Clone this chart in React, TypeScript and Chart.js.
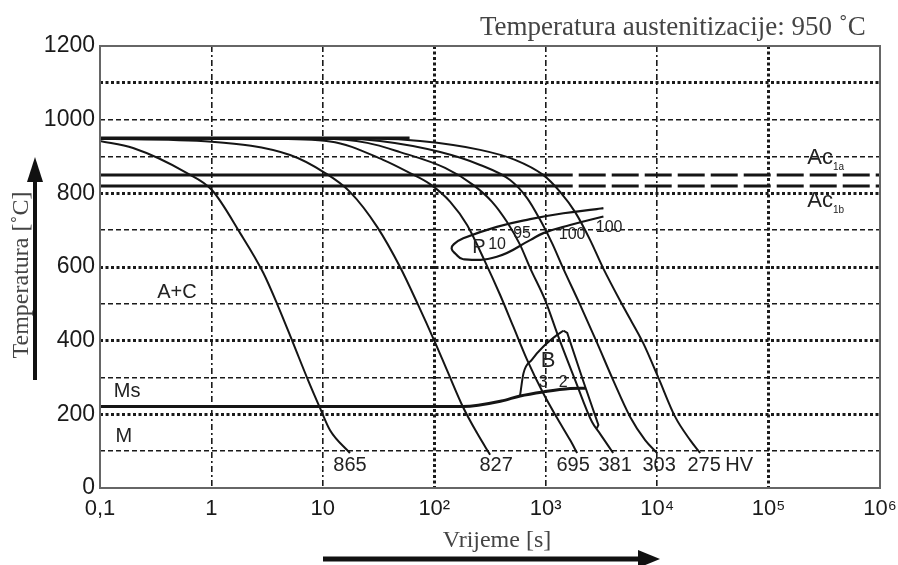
import React, { useEffect, useRef } from 'react';
import { Chart, registerables } from 'chart.js';

Chart.register(...registerables);

// ---- axes ----
const xTicks = [0.1, 1, 10, 100, 1000, 10000, 100000, 1000000];
const xTickLabels = ['0,1', '1', '10', '10²', '10³', '10⁴', '10⁵', '10⁶'];
const xHeavyTicks = [100, 100000];
const yHeavyTicks = [200, 400, 600, 800, 1100];

// ---- cooling curves [time s, temperature °C] ----
const curve865 = [[0.1, 942], [0.198, 923], [0.604, 855], [1.01, 809], [1.81, 692], [2.91, 585], [3.96, 494], [5.4, 394], [7.36, 293], [9.44, 217], [11.6, 157], [17.5, 95]];
const curve827 = [[0.1, 948], [1.01, 940], [5.08, 904], [10.5, 855], [17.5, 804], [30.7, 709], [49.3, 600], [71.6, 497], [102, 394], [130, 320], [181, 220], [242, 149], [317, 90]];
const curve695 = [[0.1, 949], [3, 948], [11.6, 941], [34.7, 891], [60.6, 855], [91.6, 825], [139, 777], [197, 714], [286, 614], [390, 524], [509, 440], [681, 348], [948, 258], [1265, 190], [1656, 130], [1915, 95]];
const curve381 = [[0.1, 949], [10, 948], [25, 937], [49.3, 912], [125, 869], [223, 823], [330, 777], [450, 722], [589, 660], [725, 597], [988, 510], [1291, 413], [1837, 293], [2606, 179], [3076, 147], [4027, 95]];
const curve303 = [[0.1, 949], [15, 948], [32.6, 942], [113, 912], [258, 877], [479, 836], [681, 787], [891, 728], [1140, 665], [1432, 597], [2037, 497], [2891, 394], [4027, 293], [5728, 193], [7801, 130], [10000, 95]];
const curve275 = [[0.1, 949], [30, 948], [74.6, 942], [258, 918], [531, 891], [948, 850], [1346, 804], [1837, 749], [2506, 673], [3275, 597], [5164, 483], [7482, 394], [10210, 301], [14520, 193], [19790, 130], [24320, 95]];

// ---- transformation lines ----
const austenitizing = [[0.1, 950], [60, 950]];
const ac1a = [[0.1, 850], [1000, 850], [1000000, 850]];
const ac1b = [[0.1, 820], [1000, 820], [1000000, 820]];
const msLine = [[0.1, 221], [182, 221], [400, 236], [589, 250], [953, 261], [1656, 270], [2281, 271]];
const bainiteStart = [[589, 252], [631, 311], [750, 348], [953, 384], [1259, 415], [1442, 427]];
const bainiteEnd = [[1442, 427], [1560, 421], [2179, 289], [2970, 171], [2872, 162]];
const pearliteLoop = [[3296, 760], [2872, 757], [1442, 746], [725, 730], [364, 709], [182, 678], [150, 662], [143, 650], [155, 636], [182, 621], [364, 628], [725, 673], [953, 692], [1656, 714], [3296, 737]];

// ---- labels [text, time, temperature] ----
const hardnessLabels: [string, number, number][] = [['865', 17.5, 62], ['827', 359, 62], ['695', 1762, 62], ['381', 4198, 62], ['303', 10420, 62], ['275', 26420, 62], ['HV', 54450, 62]];
const regionLabels: [string, number, number][] = [['A+C', 0.49, 532], ['Ms', 0.175, 261], ['M', 0.164, 141], ['B', 1052, 345]];
const pearliteLabels: [string, number, number][] = [['P', 252, 654], ['10', 366, 660], ['95', 614, 692], ['100', 1726, 687], ['100', 3707, 706], ['3', 948, 285], ['2', 1432, 285]];
const acLabels: [string, string, number, number][] = [['Ac', '1a', 222300, 896], ['Ac', '1b', 222300, 779]];

const titleText = 'Temperatura austenitizacije: 950 ˚C';
const yTitle = 'Temperatura [˚C]';
const xTitle = 'Vrijeme [s]';

const SANS = '"Liberation Sans", Arial, sans-serif';
const SERIF = '"Liberation Serif", "Times New Roman", serif';
const INK = '#151515';

const toXY = (a: number[][]) => a.map(([x, y]) => ({ x, y }));

const curveDs = (data: number[][], width = 2, extra: any = {}) => ({
  data: toXY(data),
  showLine: true,
  borderColor: INK,
  borderWidth: width,
  pointRadius: 0,
  fill: false,
  cubicInterpolationMode: 'monotone',
  ...extra,
});

const isVal = (a: number, b: number) => Math.abs(Math.log10(a) - Math.log10(b)) < 1e-6;

const decorPlugin = {
  id: 'decor',
  afterDatasetsDraw(chart: any) {
    const { ctx, chartArea: ca, scales } = chart;
    const x = scales.x, y = scales.y;
    ctx.save();
    // frame
    ctx.strokeStyle = '#666';
    ctx.lineWidth = 2;
    ctx.strokeRect(ca.left, ca.top, ca.right - ca.left, ca.bottom - ca.top);

    ctx.fillStyle = '#222';
    ctx.textAlign = 'center';
    ctx.textBaseline = 'middle';
    ctx.font = `20px ${SANS}`;
    for (const [t, tx, T] of hardnessLabels) ctx.fillText(t, x.getPixelForValue(tx), y.getPixelForValue(T));
    for (const [t, tx, T] of regionLabels) {
      ctx.font = t === 'B' ? `22px ${SANS}` : `20px ${SANS}`;
      ctx.fillText(t, x.getPixelForValue(tx), y.getPixelForValue(T));
    }
    for (const [t, tx, T] of pearliteLabels) {
      ctx.font = t === 'P' ? `20px ${SANS}` : `16px ${SANS}`;
      ctx.fillText(t, x.getPixelForValue(tx), y.getPixelForValue(T));
    }
    for (const [main, sub, tx, T] of acLabels) {
      const px = x.getPixelForValue(tx), py = y.getPixelForValue(T);
      ctx.textAlign = 'left';
      ctx.font = `22px ${SANS}`;
      ctx.fillText(main, px, py);
      const w = ctx.measureText(main).width;
      ctx.font = `10px ${SANS}`;
      ctx.fillText(sub, px + w, py + 9);
    }
    ctx.restore();
  },
  afterDraw(chart: any) {
    const { ctx } = chart;
    ctx.save();
    // title
    ctx.fillStyle = '#444';
    ctx.font = `27px ${SERIF}`;
    ctx.textAlign = 'left';
    ctx.textBaseline = 'alphabetic';
    ctx.fillText(titleText, 480, 35);
    // x title
    ctx.textAlign = 'center';
    ctx.textBaseline = 'middle';
    ctx.font = `24px ${SERIF}`;
    ctx.fillText(xTitle, 497, 541);
    // y title
    ctx.save();
    ctx.translate(22, 275);
    ctx.rotate(-Math.PI / 2);
    ctx.font = `24px ${SERIF}`;
    ctx.fillText(yTitle, 0, 0);
    ctx.restore();
    // arrows
    ctx.fillStyle = '#111';
    ctx.strokeStyle = '#111';
    ctx.lineWidth = 4;
    ctx.beginPath();
    ctx.moveTo(35, 380);
    ctx.lineTo(35, 176);
    ctx.stroke();
    ctx.beginPath();
    ctx.moveTo(35, 157);
    ctx.lineTo(27, 182);
    ctx.lineTo(43, 182);
    ctx.closePath();
    ctx.fill();
    ctx.lineWidth = 5;
    ctx.beginPath();
    ctx.moveTo(323, 559);
    ctx.lineTo(642, 559);
    ctx.stroke();
    ctx.beginPath();
    ctx.moveTo(660, 559);
    ctx.lineTo(638, 550);
    ctx.lineTo(638, 568);
    ctx.closePath();
    ctx.fill();
    ctx.restore();
  },
};

export default function App() {
  const ref = useRef<HTMLCanvasElement>(null);
  useEffect(() => {
    const acSegment = { borderDash: (c: any) => (c.p0.parsed.x >= 1000 ? [27, 6] : []) };
    const chart = new Chart(ref.current as HTMLCanvasElement, {
      type: 'scatter',
      data: {
        datasets: [
          curveDs(austenitizing, 3, { cubicInterpolationMode: 'default', tension: 0 }),
          curveDs(ac1a, 3, { cubicInterpolationMode: 'default', tension: 0, segment: acSegment }),
          curveDs(ac1b, 3, { cubicInterpolationMode: 'default', tension: 0, segment: acSegment }),
          curveDs(curve865),
          curveDs(curve827),
          curveDs(curve695),
          curveDs(curve381),
          curveDs(curve303),
          curveDs(curve275),
          curveDs(msLine, 3),
          curveDs(bainiteStart, 2),
          curveDs(bainiteEnd, 2, { cubicInterpolationMode: 'default', tension: 0 }),
          curveDs(pearliteLoop, 2.2, { cubicInterpolationMode: 'default', tension: 0.45 }),
        ] as any,
      },
      options: {
        responsive: false,
        animation: false,
        devicePixelRatio: 1,
        layout: { padding: { top: 46, right: 18, left: 0, bottom: 0 } },
        plugins: { legend: { display: false }, tooltip: { enabled: false }, title: { display: false } },
        scales: {
          x: {
            type: 'logarithmic',
            min: 0.1,
            max: 1000000,
            afterBuildTicks: (s: any) => { s.ticks = xTicks.map((v) => ({ value: v })); },
            afterFit: (s: any) => { s.height = 77; s.paddingLeft = 0; s.paddingRight = 0; },
            ticks: {
              autoSkip: false,
              maxRotation: 0,
              padding: 8,
              color: '#1a1a1a',
              font: { family: SANS, size: 22 },
              callback: (v: any) => {
                const i = xTicks.findIndex((t) => isVal(t, Number(v)));
                return i >= 0 ? xTickLabels[i] : '';
              },
            },
            grid: {
              drawTicks: false,
              color: (c: any) => {
                const v = c.tick ? c.tick.value : 0;
                return isVal(v, 0.1) || isVal(v, 1000000) ? 'rgba(0,0,0,0)' : '#1a1a1a';
              },
              lineWidth: (c: any) => (c.tick && xHeavyTicks.some((h) => isVal(h, c.tick.value)) ? 3 : 1.6),
            },
            border: {
              display: false,
              dash: (c: any) => (c.tick && xHeavyTicks.some((h) => isVal(h, c.tick.value)) ? [3, 2.5] : [6, 3, 2, 3]),
            },
          } as any,
          y: {
            type: 'linear',
            min: 0,
            max: 1200,
            afterFit: (s: any) => { s.width = 100; s.paddingTop = 0; s.paddingBottom = 0; },
            ticks: {
              stepSize: 100,
              padding: 5,
              color: '#1a1a1a',
              font: { family: SANS, size: 23 },
              callback: (v: any) => (Number(v) % 200 === 0 ? String(v) : ''),
            },
            grid: {
              drawTicks: false,
              color: (c: any) => {
                const v = c.tick ? c.tick.value : 0;
                return v === 0 || v === 1200 ? 'rgba(0,0,0,0)' : '#1a1a1a';
              },
              lineWidth: (c: any) => (c.tick && yHeavyTicks.includes(c.tick.value) ? 3 : 1.4),
            },
            border: {
              display: false,
              dash: (c: any) => (c.tick && yHeavyTicks.includes(c.tick.value) ? [3, 2.5] : [5, 3]),
            },
          } as any,
        },
      },
      plugins: [decorPlugin],
    });
    return () => chart.destroy();
  }, []);
  return (
    <div style={{ position: 'absolute', left: 0, top: 0, width: 898, height: 565, background: '#fff' }}>
      <canvas ref={ref} width={898} height={565} style={{ display: 'block' }} />
    </div>
  );
}
